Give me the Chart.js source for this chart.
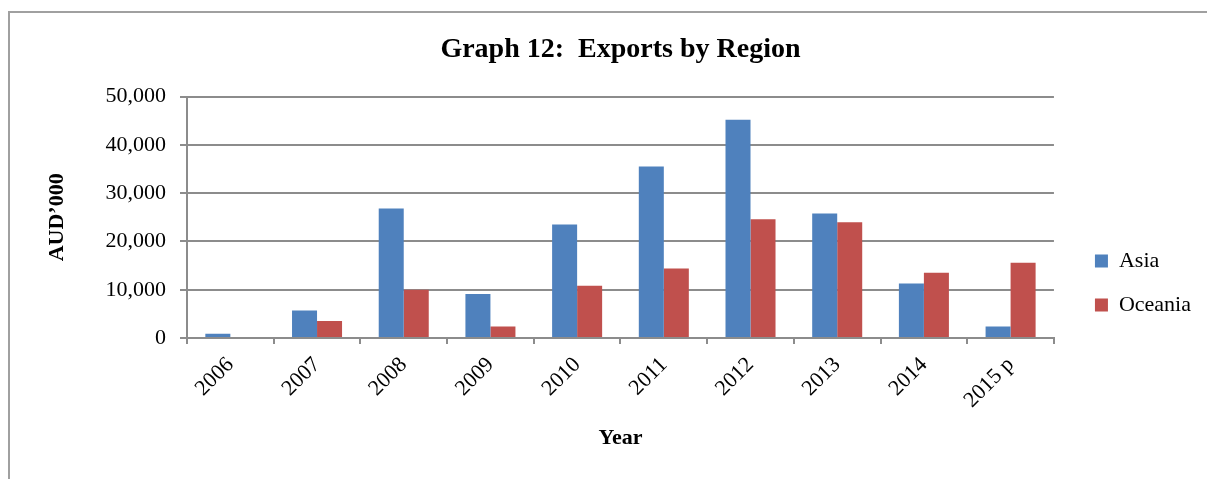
<!DOCTYPE html>
<html lang="en">

<head>
    <meta charset="UTF-8">
    <title>Graph 12: Exports by Region</title>
    <script src="https://cdn.jsdelivr.net/npm/chart.js@4.4.0/dist/chart.umd.min.js"></script>
    <style>
        body { margin: 0; background: #fff; }
        #frame {
            position: absolute; left: 8px; top: 11px;
            width: 1400px; height: 600px;
            border: 2px solid #a0a0a0;
        }
        #wrap { position: absolute; left: 0; top: 0; width: 1207px; height: 479px; }
    </style>
</head>

<body>
    <div id="frame"></div>
    <div id="wrap">
        <canvas id="exportsChart" width="1207" height="479"></canvas>
    </div>

    <script>
        // values (AUD'000)
        const years = ['2006', '2007', '2008', '2009', '2010', '2011', '2012', '2013', '2014', '2015 p'];
        const asia = [900, 5700, 26800, 9100, 23500, 35500, 45200, 25800, 11300, 2400];
        const oceania = [200, 3500, 10000, 2400, 10800, 14400, 24600, 24000, 13500, 15600];

        const yMin = 0;
        const yMax = 50000;
        const yStep = 10000;

        const serif = "'Liberation Serif', 'Times New Roman', serif";
        const gray = '#8c8c8c';

        Chart.defaults.font.family = serif;
        Chart.defaults.font.size = 22;
        Chart.defaults.color = '#000';

        const ctx = document.getElementById('exportsChart').getContext('2d');
        const chart = new Chart(ctx, {
            type: 'bar',
            data: {
                labels: years,
                datasets: [{
                    label: 'Asia',
                    data: asia,
                    backgroundColor: '#4F81BD'
                }, {
                    label: 'Oceania',
                    data: oceania,
                    backgroundColor: '#C0504D'
                }]
            },
            options: {
                responsive: false,
                animation: false,
                categoryPercentage: 0.577,
                barPercentage: 1.0,
                layout: { padding: { right: 6 } },
                plugins: {
                    title: {
                        display: true,
                        fullSize: false,
                        text: 'Graph 12:  Exports by Region',
                        font: { size: 28, weight: 'bold' },
                        padding: { top: 33, bottom: 30 }
                    },
                    legend: {
                        position: 'right',
                        align: 'end',
                        fullSize: false,
                        labels: {
                            boxWidth: 13,
                            boxHeight: 13,
                            padding: 22
                        }
                    },
                    tooltip: { enabled: false }
                },
                scales: {
                    x: {
                        grid: {
                            drawOnChartArea: false,
                            color: gray,
                            lineWidth: 2,
                            tickLength: 6
                        },
                        border: { color: gray, width: 2 },
                        ticks: {
                            autoSkip: false,
                            minRotation: 45,
                            maxRotation: 45,
                            padding: 8
                        },
                        title: {
                            display: true,
                            text: 'Year',
                            font: { weight: 'bold' },
                            padding: { top: 0, bottom: 27 }
                        },
                        afterFit: s => { s.height = 141; }
                    },
                    y: {
                        min: yMin,
                        max: yMax,
                        grid: { color: gray, lineWidth: 2, tickLength: 7 },
                        border: { color: gray, width: 2 },
                        ticks: {
                            stepSize: yStep,
                            padding: 14,
                            callback: v => v.toLocaleString('en-US')
                        },
                        title: {
                            display: true,
                            text: 'AUD\u2019000',
                            font: { weight: 'bold' },
                            padding: { top: 44, bottom: 0 }
                        },
                        afterFit: s => { s.width = 187; }
                    },
                    // empty strip that keeps the legend off the plot
                    gap: {
                        type: 'linear',
                        position: 'right',
                        grid: { display: false },
                        border: { display: false },
                        ticks: { display: false },
                        afterFit: s => { s.width = 19; }
                    }
                }
            }
        });
    </script>
</body>

</html>
